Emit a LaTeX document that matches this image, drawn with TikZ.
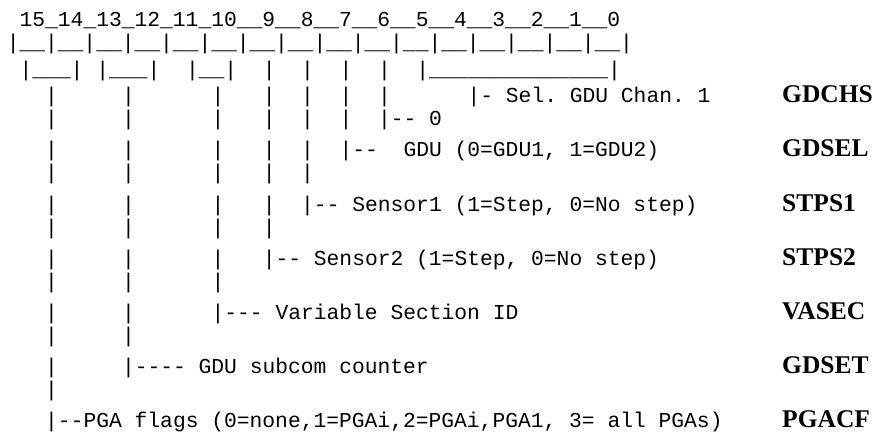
\documentclass[tikz,border=0pt]{standalone}
\usepackage{fontspec}
\setmonofont{Liberation Mono}
\newfontfamily\tagfont{Liberation Serif}

\begin{document}
\begin{tikzpicture}[x = 12.8pt, y = -1pt,
  asc/.style = {font = \fontsize{21.3}{24}\selectfont\ttfamily\frenchspacing, inner sep = 0, anchor = base west},
  tag/.style = {font = \fontsize{25.5}{28}\selectfont\tagfont\bfseries, inner sep = 0, anchor = base west}]
\useasboundingbox (0pt,0pt) rectangle (878pt,-431pt);
\begin{scope}[xshift = 6.6pt]
% bit numbers and cells
\node[asc] (bits) at (1,27) {15\_14\_13\_12\_11\_10\_\_9\_\_8\_\_7\_\_6\_\_5\_\_4\_\_3\_\_2\_\_1\_\_0};
\node[asc] (cells) at (0,49) {|\_\_|\_\_|\_\_|\_\_|\_\_|\_\_|\_\_|\_\_|\_\_|\_\_|\_\_|\_\_|\_\_|\_\_|\_\_|\_\_|};
% brackets
\node[asc] (g15) at (1,76) {|\_\_\_|};
\node[asc] (g13) at (7,76) {|\_\_\_|};
\node[asc] (g11) at (14,76) {|\_\_|};
\foreach \c in {20,23,26,29}
  \node[asc] (bar2-\c) at (\c,76) {|};
\node[asc] (g5) at (32,76) {|\_\_\_\_\_\_\_\_\_\_\_\_\_\_|};
% vertical runs
\foreach \r/\y/\cols in {3/102/{3,9,16,20,23,26,29}, 4/125/{3,9,16,20,23,26},
    5/156/{3,9,16,20,23}, 6/179/{3,9,16,20,23}, 7/211/{3,9,16,20}, 8/234/{3,9,16,20},
    9/265/{3,9,16}, 10/288/{3,9,16}, 11/319/{3,9}, 12/342/{3,9}, 13/373/{3}, 14/396/{3}}
  \foreach \c in \cols
    \node[asc] (bar\r-\c) at (\c,\y) {|};
% field texts
\node[asc] (chs) at (36,102) {|- Sel. GDU Chan. 1};
\node[asc] (zero) at (29,125) {|-- 0};
\node[asc] (sel) at (26,156) {|--\ \ GDU (0=GDU1, 1=GDU2)};
\node[asc] (s1) at (23,211) {|-- Sensor1 (1=Step, 0=No step)};
\node[asc] (s2) at (20,265) {|-- Sensor2 (1=Step, 0=No step)};
\node[asc] (vas) at (16,319) {|--- Variable Section ID};
\node[asc] (set) at (9,373) {|---- GDU subcom counter};
\node[asc] (pga) at (3,427) {|--PGA flags (0=none,1=PGAi,2=PGAi,PGA1, 3= all PGAs)};
% mnemonics
\node[tag] (GDCHS) at (60.58,102) {GDCHS};
\node[tag] (GDSEL) at (60.58,156) {GDSEL};
\node[tag] (STPS1) at (60.58,211) {STPS1};
\node[tag] (STPS2) at (60.58,265) {STPS2};
\node[tag] (VASEC) at (60.58,319) {VASEC};
\node[tag] (GDSET) at (60.58,373) {GDSET};
\node[tag] (PGACF) at (60.58,427) {PGACF};
\end{scope}
\end{tikzpicture}
\end{document}
